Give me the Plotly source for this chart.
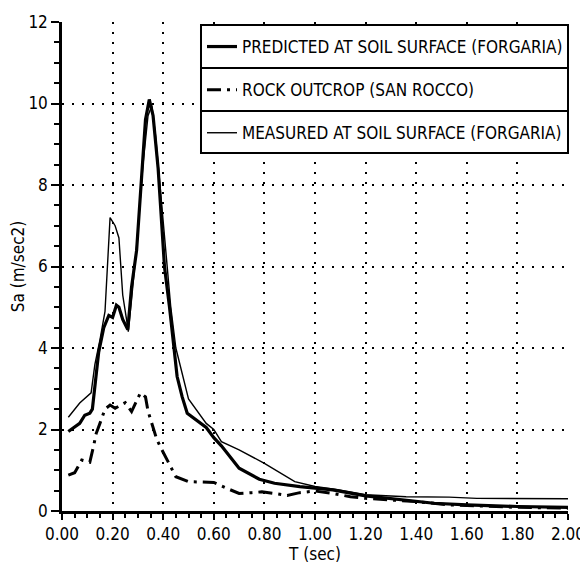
import plotly.graph_objects as go

# ---- data ----
T_pred = [0.025, 0.07, 0.09, 0.11, 0.12, 0.145, 0.165, 0.185, 0.2, 0.215, 0.225, 0.24, 0.26,
          0.275, 0.295, 0.315, 0.33, 0.345, 0.36, 0.38, 0.405, 0.425, 0.44, 0.455, 0.475,
          0.495, 0.57, 0.6, 0.63, 0.7, 0.78, 0.84, 0.94, 1.07, 1.2, 1.34, 1.47, 1.6, 1.8, 2.0]
S_pred = [1.95, 2.15, 2.35, 2.4, 2.5, 3.9, 4.5, 4.8, 4.75, 5.05, 5.0, 4.7, 4.45,
          5.5, 6.4, 8.4, 9.6, 10.1, 9.7, 8.4, 6.0, 5.0, 4.1, 3.3, 2.8,
          2.4, 2.05, 1.8, 1.6, 1.05, 0.78, 0.68, 0.6, 0.52, 0.37, 0.27, 0.19, 0.15, 0.11, 0.09]

T_rock = [0.025, 0.05, 0.078, 0.11, 0.125, 0.135, 0.15, 0.17, 0.19, 0.21, 0.25, 0.275, 0.31,
          0.33, 0.34, 0.375, 0.395, 0.415, 0.45, 0.5, 0.6, 0.65, 0.7, 0.75, 0.79, 0.84, 0.89,
          0.94, 1.0, 1.07, 1.14, 1.2, 1.3, 1.4, 1.53, 1.67, 1.8, 2.0]
S_rock = [0.88, 0.94, 1.25, 1.2, 1.6, 1.9, 2.15, 2.5, 2.6, 2.52, 2.66, 2.44, 2.9,
          2.8, 2.45, 1.75, 1.5, 1.25, 0.84, 0.72, 0.7, 0.56, 0.43, 0.45, 0.47, 0.43, 0.38,
          0.45, 0.49, 0.43, 0.35, 0.31, 0.27, 0.23, 0.15, 0.11, 0.09, 0.07]

T_meas = [0.025, 0.07, 0.115, 0.13, 0.15, 0.17, 0.19, 0.21, 0.225, 0.24, 0.255, 0.262, 0.275,
          0.295, 0.32, 0.34, 0.355, 0.37, 0.39, 0.41, 0.43, 0.45, 0.5, 0.57, 0.6, 0.63, 0.7,
          0.8, 0.92, 1.0, 1.09, 1.2, 1.36, 1.53, 1.64, 2.0]
S_meas = [2.3, 2.65, 2.9, 3.6, 4.2, 4.9, 7.2, 7.0, 6.7, 5.3, 4.7, 4.4, 5.2,
          6.5, 8.5, 9.7, 9.95, 9.2, 7.8, 6.3, 5.0, 4.0, 2.75, 2.15, 2.0, 1.7, 1.5,
          1.17, 0.72, 0.6, 0.52, 0.4, 0.35, 0.34, 0.31, 0.3]

names = ["PREDICTED AT SOIL SURFACE (FORGARIA)",
         "ROCK OUTCROP (SAN ROCCO)",
         "MEASURED AT SOIL SURFACE (FORGARIA)"]

x_title = "T (sec)"
y_title = "Sa (m/sec2)"

FONT = "DejaVu Sans Condensed, Liberation Sans Narrow, Arial Narrow, sans-serif"

fig = go.Figure()
fig.add_trace(go.Scatter(x=T_pred, y=S_pred, mode="lines", name=names[0], legendgroup="g1",
                         line=dict(color="black", width=3.2)))
fig.add_trace(go.Scatter(x=T_rock, y=S_rock, mode="lines", name=names[1], legendgroup="g2",
                         line=dict(color="black", width=3, dash="14px,6px,3px,6px")))
fig.add_trace(go.Scatter(x=T_meas, y=S_meas, mode="lines", name=names[2], legendgroup="g3",
                         line=dict(color="black", width=1.4)))

axis_common = dict(
    showline=True, linecolor="black", linewidth=2.5,
    ticks="outside", tickwidth=2, tickcolor="black",
    showgrid=True, gridcolor="black", gridwidth=2, griddash="2px,8px",
    zeroline=False, mirror=False, automargin=False,
    tickfont=dict(family=FONT, size=17, color="black"),
)

fig.update_xaxes(range=[0, 2], dtick=0.2, tick0=0, tickformat=".2f", ticklen=6,
                 title=dict(text=x_title, font=dict(family=FONT, size=17, color="black"), standoff=5),
                 minor=dict(dtick=0.05, ticks="outside", ticklen=4, tickwidth=1.5,
                            tickcolor="black", showgrid=False),
                 **axis_common)
fig.update_yaxes(range=[0, 12], dtick=2, tick0=0, ticklen=8,
                 title=dict(text=y_title, font=dict(family=FONT, size=17, color="black"), standoff=10),
                 minor=dict(dtick=0.5, ticks="outside", ticklen=5, tickwidth=1.5,
                            tickcolor="black", showgrid=False),
                 **axis_common)

# legend box (white fill, black frame) and row separators
LX0, LX1, LY0, LY1 = 0.2747, 1.0, 0.7321, 0.9939
fig.add_shape(type="rect", xref="paper", yref="paper", x0=LX0, x1=LX1, y0=LY0, y1=LY1,
              fillcolor="white", line=dict(color="black", width=2), layer="above")
for yy in [0.906, 0.818]:
    fig.add_shape(type="line", xref="paper", yref="paper", x0=LX0, x1=LX1, y0=yy, y1=yy,
                  line=dict(color="black", width=2), layer="above")

fig.update_layout(
    width=580, height=556,
    margin=dict(l=54, r=20, t=14, b=53, autoexpand=False),
    paper_bgcolor="white", plot_bgcolor="white",
    font=dict(family=FONT, size=16, color="black"),
    showlegend=True,
    legend=dict(x=1.0, y=0.9857, xanchor="right", yanchor="top",
                bgcolor="rgba(0,0,0,0)", borderwidth=0,
                font=dict(family=FONT, size=17, color="black"),
                traceorder="grouped", tracegroupgap=18, itemwidth=30),
)

fig.write_html("out.html")
